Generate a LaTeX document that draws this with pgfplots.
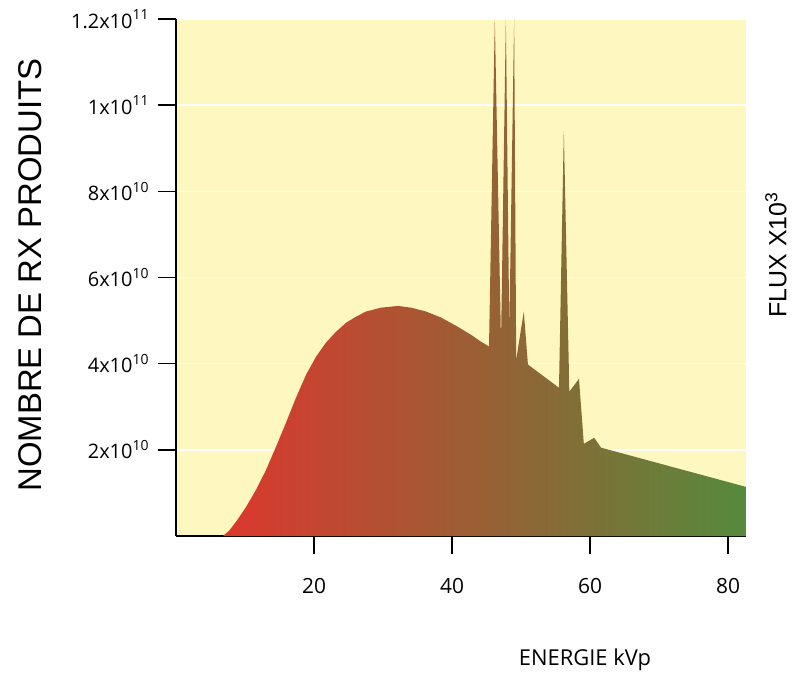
\documentclass[border=0pt]{standalone}
\usepackage{pgfplots}
\pgfplotsset{compat=1.18}
\usepackage{fontspec}
\setmainfont{Open Sans}
\newfontfamily\arialfont{Liberation Sans}
\definecolor{bgyellow}{RGB}{255,247,192}
\definecolor{cred}{RGB}{220,55,45}
\definecolor{cmid}{RGB}{160,108,52}
\definecolor{cgreen}{RGB}{85,138,60}
\newcommand\snext[1]{\raisebox{0.42em}{\fontsize{14}{14}\selectfont #1}}
\begin{document}
\begin{tikzpicture}
\begin{axis}[
  scale only axis, width=570bp, height=517bp,
  xmin=0, xmax=82.6, ymin=0, ymax=12,
  axis x line*=bottom, axis y line*=left,
  axis line style={line width=1.5bp, black, -},
  axis background/.style={fill=bgyellow},
  xtick={20,40,60,80}, xticklabels={20,40,60,80},
  ytick={2,4,6,8,10,12},
  yticklabels={2x10\snext{10},4x10\snext{10},6x10\snext{10},8x10\snext{10},1x10\snext{11},1.2x10\snext{11}},
  tick align=outside, major tick length=18bp,
  tick style={line width=1.5bp, black},
  ymajorgrids, grid style={white, line width=1.5bp},
  xticklabel style={font=\fontsize{21}{24}\selectfont, yshift=-21bp},
  yticklabel style={font=\fontsize{20}{22}\selectfont, xshift=-6bp},
]
\addplot[draw=none, left color=cred, middle color=cmid, right color=cgreen] coordinates {
(6.81,0) (7.68,0.12) (8.70,0.33) (10.14,0.67) (11.59,1.07) (13.04,1.53) (14.49,2.07)
(15.94,2.63) (17.39,3.21) (18.84,3.74) (20.29,4.16) (21.74,4.49) (23.19,4.74)
(24.64,4.95) (26.09,5.09) (27.54,5.21) (29.71,5.30) (32.17,5.34) (34.06,5.30)
(36.23,5.21) (38.41,5.07) (40.58,4.88) (42.75,4.67) (44.2,4.51) (45.36,4.40)
(46.2,12) (47.1,4.49) (47.8,12) (48.3,4.79) (49.0,12) (49.3,4.09) (50.4,5.21)
(51.0,3.98) (55.5,3.44) (56.2,9.40) (57.0,3.35) (58.4,3.65) (59.1,2.14)
(60.6,2.28) (61.6,2.05) (82.6,1.14)
} \closedcycle;
\end{axis}
\node[rotate=90, font=\arialfont\fontsize{33}{36}\selectfont] at (-146bp,261bp) {NOMBRE DE RX PRODUITS};
\node[rotate=90, font=\arialfont\fontsize{25}{28}\selectfont] at (600bp,281bp) {FLUX X10\textsuperscript{3}};
\node[font=\fontsize{22}{26}\selectfont] at (409bp,-124bp) {ENERGIE kVp};
\path (-176bp,-138bp) rectangle (616bp,536bp);
\end{tikzpicture}
\end{document}
